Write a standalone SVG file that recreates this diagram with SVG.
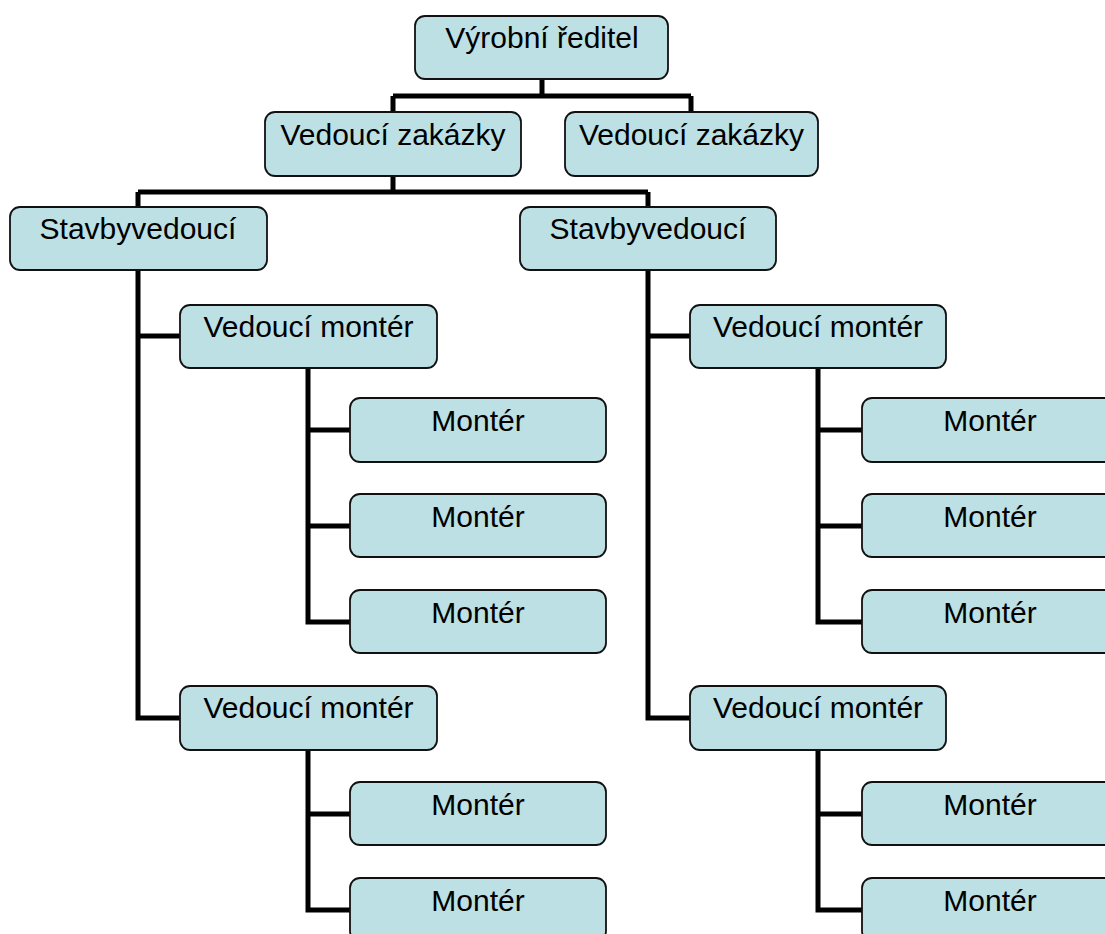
<svg xmlns="http://www.w3.org/2000/svg" width="1105" height="934" viewBox="0 0 1105 934">
<style>
.box{fill:#bce0e3;stroke:#111;stroke-width:1.8}
.t{font-family:"Liberation Sans",Arial,sans-serif;font-size:30px;fill:#000;text-anchor:middle}
.c{fill:none;stroke:#000;stroke-width:5;stroke-linejoin:miter;stroke-linecap:butt}
</style>
<rect width="1105" height="934" fill="#fff"/>
<g id="connectors">
<path class="c" d="M542 79 V96 M393 96 H691 M393 96 V112 M691 96 V112"/>
<path class="c" d="M393 176 V192 M138 192 H648 M138 192 V207 M648 192 V207"/>
<path class="c" d="M138 270 V718 H180 M138 336 H180"/>
<path class="c" d="M648 270 V718 H690 M648 336 H690"/>
<path class="c" d="M308 368 V622 H350 M308 430 H350 M308 526 H350"/>
<path class="c" d="M308 750 V910 H350 M308 814 H350"/>
<path class="c" d="M818 368 V622 H862 M818 430 H862 M818 526 H862"/>
<path class="c" d="M818 750 V910 H862 M818 814 H862"/>
</g>
<g id="n-vyrobni"><rect class="box" x="415" y="16" width="253" height="63" rx="10"/><text class="t" x="542" y="48">Výrobní ředitel</text></g>
<g id="n-vz1"><rect class="box" x="265" y="112" width="256" height="64" rx="10"/><text class="t" x="393" y="145">Vedoucí zakázky</text></g>
<g id="n-vz2"><rect class="box" x="565" y="112" width="253" height="64" rx="10"/><text class="t" x="691.5" y="145">Vedoucí zakázky</text></g>
<g id="n-sv1"><rect class="box" x="10" y="207" width="257" height="63" rx="10"/><text class="t" x="138" y="239">Stavbyvedoucí</text></g>
<g id="n-sv2"><rect class="box" x="520" y="207" width="256" height="63" rx="10"/><text class="t" x="648" y="239">Stavbyvedoucí</text></g>
<g id="n-vm1"><rect class="box" x="180" y="305" width="257" height="63" rx="10"/><text class="t" x="308.5" y="337">Vedoucí montér</text></g>
<g id="n-vm2"><rect class="box" x="180" y="686" width="257" height="64" rx="10"/><text class="t" x="308.5" y="718">Vedoucí montér</text></g>
<g id="n-vm3"><rect class="box" x="690" y="305" width="256" height="63" rx="10"/><text class="t" x="818" y="337">Vedoucí montér</text></g>
<g id="n-vm4"><rect class="box" x="690" y="686" width="256" height="64" rx="10"/><text class="t" x="818" y="718">Vedoucí montér</text></g>
<g id="n-m1"><rect class="box" x="350" y="398" width="256" height="64" rx="10"/><text class="t" x="478" y="431">Montér</text></g>
<g id="n-m2"><rect class="box" x="350" y="494" width="256" height="63" rx="10"/><text class="t" x="478" y="527">Montér</text></g>
<g id="n-m3"><rect class="box" x="350" y="590" width="256" height="63" rx="10"/><text class="t" x="478" y="623">Montér</text></g>
<g id="n-m4"><rect class="box" x="350" y="782" width="256" height="63" rx="10"/><text class="t" x="478" y="815">Montér</text></g>
<g id="n-m5"><rect class="box" x="350" y="878" width="256" height="63" rx="10"/><text class="t" x="478" y="911">Montér</text></g>
<g id="n-m6"><rect class="box" x="862" y="398" width="256" height="64" rx="10"/><text class="t" x="990" y="431">Montér</text></g>
<g id="n-m7"><rect class="box" x="862" y="494" width="256" height="63" rx="10"/><text class="t" x="990" y="527">Montér</text></g>
<g id="n-m8"><rect class="box" x="862" y="590" width="256" height="63" rx="10"/><text class="t" x="990" y="623">Montér</text></g>
<g id="n-m9"><rect class="box" x="862" y="782" width="256" height="63" rx="10"/><text class="t" x="990" y="815">Montér</text></g>
<g id="n-m10"><rect class="box" x="862" y="878" width="256" height="63" rx="10"/><text class="t" x="990" y="911">Montér</text></g>
</svg>
